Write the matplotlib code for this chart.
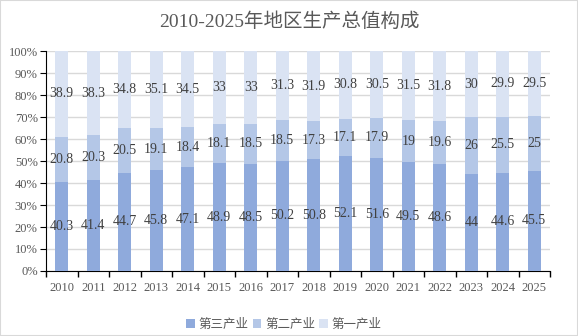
import numpy as np
import matplotlib.pyplot as plt
from matplotlib.ticker import PercentFormatter, FixedLocator

years = [str(y) for y in range(2010, 2026)]
tertiary = [40.3, 41.4, 44.7, 45.8, 47.1, 48.9, 48.5, 50.2, 50.8, 52.1, 51.6, 49.5, 48.6, 44, 44.6, 45.5]
secondary = [20.8, 20.3, 20.5, 19.1, 18.4, 18.1, 18.5, 18.5, 17.3, 17.1, 17.9, 19, 19.6, 26, 25.5, 25]
primary = [38.9, 38.3, 34.8, 35.1, 34.5, 33, 33, 31.3, 31.9, 30.8, 30.5, 31.5, 31.8, 30, 29.9, 29.5]
series_names = ["第三产业", "第二产业", "第一产业"]
colors = ["#8FAADC", "#B4C7E7", "#DAE3F3"]

plt.rcParams['font.family'] = ['Liberation Serif', 'Noto Sans CJK SC']

fig = plt.figure(figsize=(5.78, 3.36), dpi=100)
fig.patches.append(plt.Rectangle((0, 0), 1, 1, transform=fig.transFigure,
                                 fill=False, edgecolor="#D9D9D9", linewidth=1.5))
ax = fig.add_axes([0.0796, 0.1935, 0.872, 0.6545])

x = np.arange(len(years))
bottom = np.zeros(len(years))
for vals, name, c in zip([tertiary, secondary, primary], series_names, colors):
    vals = np.array(vals, dtype=float)
    bars = ax.bar(x, vals, 0.42, bottom=bottom, color=c, label=name, zorder=3)
    labels = [f"{v:g}" for v in vals]
    ax.bar_label(bars, labels=labels, label_type="center", fontsize=10, color="#404040", zorder=4)
    bottom += vals

ax.set_xlim(-0.5, len(years) - 0.5)
ax.set_ylim(0, 100)
ax.set_yticks(np.arange(0, 101, 10))
ax.yaxis.set_major_formatter(PercentFormatter(decimals=0))
ax.set_xticks(x)
ax.set_xticklabels(years)
ax.xaxis.set_minor_locator(FixedLocator(np.arange(-0.5, len(years), 1)))
ax.tick_params(axis="x", which="major", length=0, pad=8, labelsize=9, labelcolor="#595959")
ax.tick_params(axis="x", which="minor", length=4, color="black", width=1)
ax.tick_params(axis="y", length=4, color="black", labelsize=9, labelcolor="#595959", pad=2)
ax.grid(axis="y", color="#D9D9D9", linewidth=1, zorder=0)
for s in ["top", "right"]:
    ax.spines[s].set_visible(False)
ax.spines["left"].set_color("black")
ax.spines["bottom"].set_color("black")

fig.text(0.5, 0.935, "2010-2025年地区生产总值构成", ha="center", va="center",
         fontsize=14, color="#595959")
ax.legend(loc="center", bbox_to_anchor=(0.472, -0.245), ncol=3, frameon=False,
          fontsize=9, handlelength=0.7, handleheight=0.7, handletextpad=0.3,
          columnspacing=0.3, labelcolor="#595959")

fig.savefig("out.png", dpi=100)
